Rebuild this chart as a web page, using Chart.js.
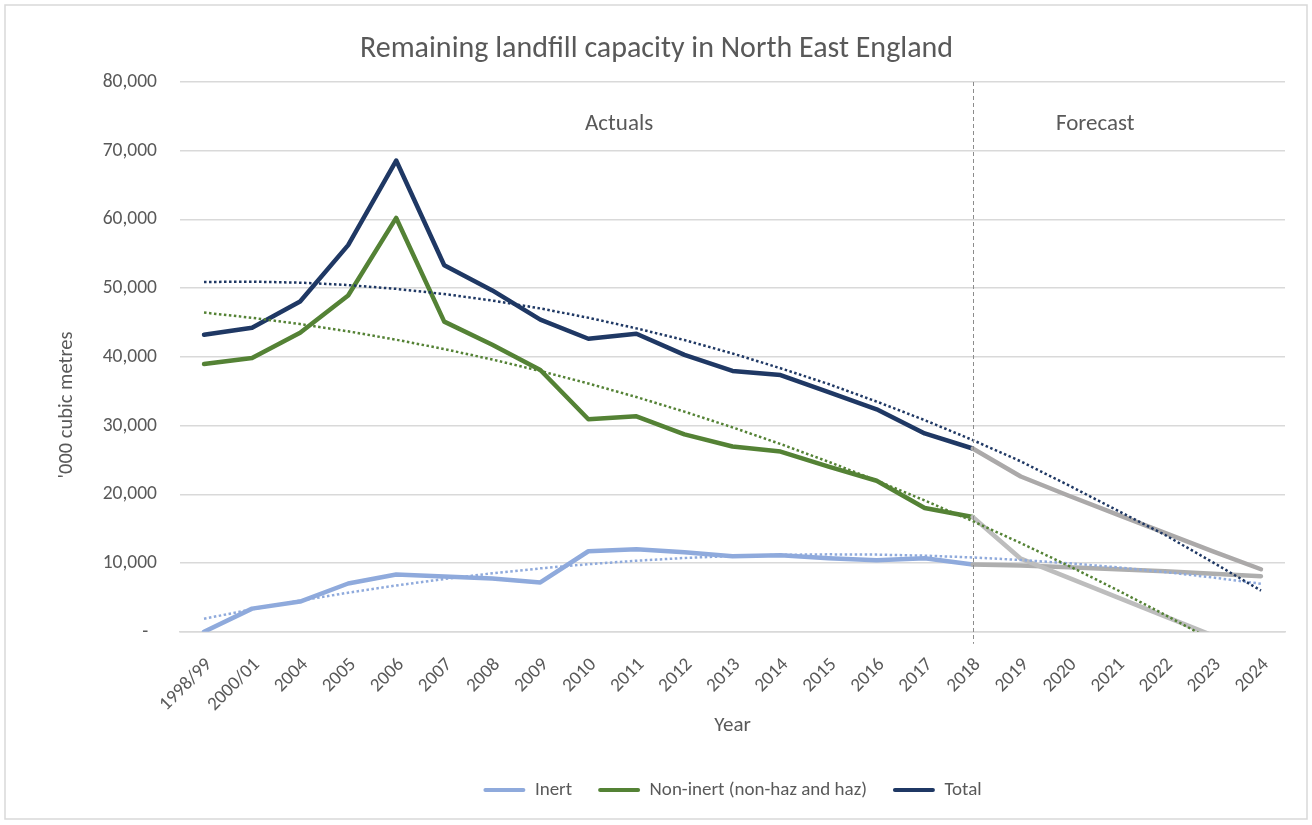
<!DOCTYPE html>
<html><head><meta charset="utf-8">
<script src="https://cdn.jsdelivr.net/npm/chart.js@4.4.0/dist/chart.umd.min.js"></script>
<style>html,body{margin:0;padding:0;background:#fff}#wrap{width:1312px;height:825px;position:relative}</style>
</head><body><div id="wrap"><canvas id="c" width="1312" height="825"></canvas></div>
<script>
const categories = ['1998/99','2000/01','2004','2005','2006','2007','2008','2009','2010','2011','2012','2013','2014','2015','2016','2017','2018','2019','2020','2021','2022','2023','2024'];
// Actuals (1998/99 .. 2018)
const inertActual    = [0, 3370, 4400, 7030, 8350, 8060, 7770, 7180, 11720, 12010, 11580, 11000, 11140, 10700, 10400, 10700, 9800];
const nonInertActual = [38970, 39850, 43520, 48940, 60220, 45130, 41760, 38100, 30920, 31360, 28720, 26960, 26230, 24030, 21980, 18020, 16700];
const totalActual    = [43220, 44250, 48060, 56260, 68570, 53330, 49670, 45420, 42640, 43370, 40290, 37950, 37360, 34870, 32380, 28860, 26670];
// Forecast (2018 .. 2024)
const inertForecast    = [9800, 9650, 9400, 9100, 8800, 8450, 8100];
const nonInertForecast = [16700, 10640, 7850, 5050, 2250, -550, -3350];
const totalForecast    = [26670, 22600, 19800, 17100, 14400, 11700, 9100];
// Trendlines (1998/99 .. 2024)
const inertTrend    = [1900, 3270, 4540, 5690, 6740, 7680, 8510, 9230, 9840, 10340, 10740, 11030, 11200, 11270, 11230, 11080, 10820, 10450, 9970, 9390, 8700, 7900, 6990];
const nonInertTrend = [46450, 45690, 44780, 43720, 42500, 41140, 39620, 37950, 36130, 34160, 32030, 29750, 27320, 24740, 22000, 19110, 16100, 12910, 9590, 6110, 2480, -1290, -5210];
const totalTrend    = [50900, 50950, 50800, 50450, 49900, 49150, 48200, 47050, 45700, 44150, 42450, 40500, 38350, 36050, 33500, 30800, 27900, 24800, 21300, 17700, 14100, 10100, 6000];
const yTicks = [0, 10000, 20000, 30000, 40000, 50000, 60000, 70000, 80000];
const seriesNames = ['Inert', 'Non-inert (non-haz and haz)', 'Total'];
const forecastStart = '2018';
const sectionLabels = ['Actuals', 'Forecast'];
const yTitle = "'000 cubic metres";

const FONT = "Carlito, Calibri, Lato, sans-serif";
const TXT = '#595959';
const C_INERT = '#8FAADC', C_NON = '#548235', C_TOTAL = '#1F3864';
const GREY_T = '#ABA9A9', GREY_N = '#BDBDBD', GREY_I = '#AEAEAE';

const n = categories.length;
const fIdx = categories.indexOf(forecastStart);
const padActual = a => a.concat(Array(n - a.length).fill(null));
const padForecast = a => Array(fIdx).fill(null).concat(a);

function lineDs(label, data, color, width, order, dash) {
  return {label, data, borderColor: color, backgroundColor: color, borderWidth: width,
    pointRadius: 0, pointHoverRadius: 0, tension: 0, order, fill: false,
    borderDash: dash || [], borderJoinStyle: 'round', borderCapStyle: dash ? 'butt' : 'round'};
}

const datasets = [
  lineDs(seriesNames[0], padActual(inertActual), C_INERT, 4.5, 9),
  lineDs(seriesNames[1], padActual(nonInertActual), C_NON, 4.5, 8),
  lineDs(seriesNames[2], padActual(totalActual), C_TOTAL, 4.5, 7),
  lineDs('Inert forecast', padForecast(inertForecast), GREY_I, 4.5, 6),
  lineDs('Non-inert forecast', padForecast(nonInertForecast), GREY_N, 4.5, 5),
  lineDs('Total forecast', padForecast(totalForecast), GREY_T, 4.5, 4),
  lineDs('Inert trend', inertTrend, C_INERT, 2.5, 3, [2.5, 2.5]),
  lineDs('Non-inert trend', nonInertTrend, C_NON, 2.5, 2, [2.5, 2.5]),
  lineDs('Total trend', totalTrend, C_TOTAL, 2.5, 1, [2.5, 2.5]),
];

const annotatePlugin = {
  id: 'annot',
  beforeDraw(chart) {
    const {ctx} = chart;
    ctx.save();
    ctx.strokeStyle = '#D9D9D9'; ctx.lineWidth = 1.5;
    ctx.strokeRect(5, 5, 1302, 814);
    ctx.restore();
  },
  afterDraw(chart) {
    const {ctx, scales: {y}} = chart;
    ctx.save();
    ctx.fillStyle = TXT; ctx.font = '20.5px ' + FONT; ctx.textAlign = 'center'; ctx.textBaseline = 'middle';
    ctx.translate(67, y.getPixelForValue(33000));
    ctx.rotate(-Math.PI / 2);
    ctx.fillText(yTitle, 0, 0);
    ctx.restore();
  },
  afterDatasetsDraw(chart) {
    const {ctx, chartArea, scales: {x, y}} = chart;
    const px = x.getPixelForValue(fIdx);
    ctx.save();
    ctx.strokeStyle = '#8C8C8C'; ctx.lineWidth = 1; ctx.setLineDash([4, 3]);
    ctx.beginPath(); ctx.moveTo(Math.round(px) + 0.5, chartArea.top); ctx.lineTo(Math.round(px) + 0.5, chartArea.bottom + 12); ctx.stroke();
    ctx.setLineDash([]);
    ctx.fillStyle = TXT; ctx.font = '23px ' + FONT; ctx.textAlign = 'center'; ctx.textBaseline = 'middle';
    const ty = y.getPixelForValue(73800);
    ctx.fillText(sectionLabels[0], x.getPixelForValue(8.64), ty);
    ctx.fillText(sectionLabels[1], x.getPixelForValue(18.55), ty);
    ctx.restore();
  }
};

new Chart(document.getElementById('c'), {
  type: 'line',
  data: {labels: categories, datasets},
  plugins: [annotatePlugin],
  options: {
    responsive: false, devicePixelRatio: 1, animation: false,
    layout: {padding: {left: 28, right: 27, top: 0, bottom: 15.6}},
    plugins: {
      title: {display: true, text: 'Remaining landfill capacity in North East England', color: TXT,
        font: {family: FONT, size: 30, weight: 'normal'}, padding: {top: 31, bottom: 15}},
      legend: {position: 'bottom', fullSize: false,
        labels: {color: TXT, font: {family: FONT, size: 19}, boxWidth: 42, boxHeight: 4, padding: 26, useBorderRadius: true, borderRadius: 2,
          generateLabels: (chart) => seriesNames.map((name, i) => ({
            text: name, fillStyle: datasets[i].borderColor, strokeStyle: datasets[i].borderColor,
            lineWidth: 0, fontColor: TXT, datasetIndex: i, hidden: false, borderRadius: 2}))}},
      tooltip: {enabled: false}
    },
    scales: {
      x: {type: 'category', offset: true,
        grid: {display: false, drawTicks: false},
        border: {display: true, color: '#D9D9D9', width: 1.5},
        ticks: {color: TXT, font: {family: FONT, size: 19}, minRotation: 45, maxRotation: 45, autoSkip: false, padding: 22, labelOffset: 5},
        title: {display: true, text: 'Year', color: TXT, font: {family: FONT, size: 21}, padding: {top: 0, bottom: 16}},
        afterFit(s) { s.height = 122.6; }
      },
      y: {min: 0, max: 80000,
        afterBuildTicks(s) { s.ticks = yTicks.map(v => ({value: v})); },
        grid: {color: '#D9D9D9', lineWidth: 1.5, drawTicks: false},
        border: {display: false},
        ticks: {color: TXT, font: {family: FONT, size: 19.5}, padding: 23,
          callback: v => v === 0 ? '-  ' : v.toLocaleString('en-US')},
        title: {display: false},
        afterFit(s) { s.width = 152; }
      }
    }
  }
});
</script></body></html>
